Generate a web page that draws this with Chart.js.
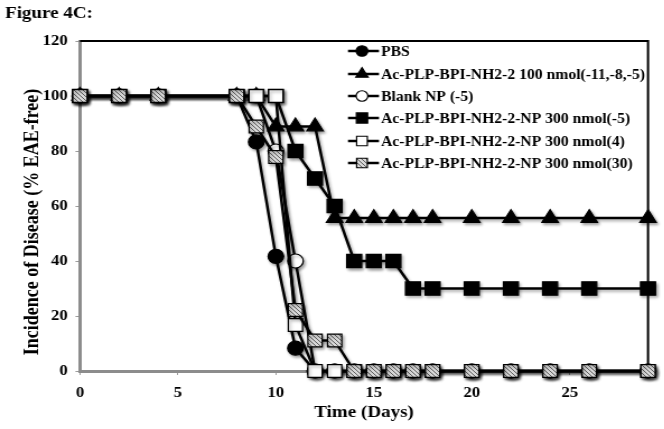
<!DOCTYPE html>
<html>
<head>
<meta charset="utf-8">
<script src="https://cdn.jsdelivr.net/npm/chart.js@4.4.0/dist/chart.umd.min.js"></script>
<style>
html, body { margin: 0; padding: 0; background: #fff; overflow: hidden; }
/* the source figure is stretched sideways a little, so is this one */
#wrap { width: 593px; height: 429px; transform: scaleX(1.12); transform-origin: 0 0; }
</style>
</head>
<body>
<div id="wrap"><canvas id="c"></canvas></div>
<script>
var days = [0, 2, 4, 8, 9, 10, 11, 12, 13, 14, 15, 16, 17, 18, 20, 22, 24, 26, 29];
var pbs      = [100, 100, 100, 100, 83.3, 41.7, 8.3, 0, 0, 0, 0, 0, 0, 0, 0, 0, 0, 0, 0];
var pep100   = [100, 100, 100, 100, 100, 88.9, 88.9, 88.9, 55.6, 55.6, 55.6, 55.6, 55.6, 55.6, 55.6, 55.6, 55.6, 55.6, 55.6];
var blankNP  = [100, 100, 100, 100, 100, 80, 40, 0, 0, 0, 0, 0, 0, 0, 0, 0, 0, 0, 0];
var np300m5  = [100, 100, 100, 100, 100, 100, 80, 70, 60, 40, 40, 40, 30, 30, 30, 30, 30, 30, 30];
var np300d4  = [100, 100, 100, 100, 100, 100, 16.7, 0, 0, 0, 0, 0, 0, 0, 0, 0, 0, 0, 0];
var np300d30 = [100, 100, 100, 100, 88.9, 77.8, 22.2, 11.1, 11.1, 0, 0, 0, 0, 0, 0, 0, 0, 0, 0];
var names = ['PBS', 'Ac-PLP-BPI-NH2-2 100 nmol(-11,-8,-5)', 'Blank NP (-5)',
             'Ac-PLP-BPI-NH2-2-NP 300 nmol(-5)', 'Ac-PLP-BPI-NH2-2-NP 300 nmol(4)',
             'Ac-PLP-BPI-NH2-2-NP 300 nmol(30)'];
var xTicks = [0, 5, 10, 15, 20, 25];
var yTicks = [0, 20, 40, 60, 80, 100, 120];

var serif = '"Liberation Serif", "Times New Roman", serif';
var canvas = document.getElementById('c');
var ctx = canvas.getContext('2d');

function hatch() {
	var p = document.createElement('canvas');
	p.width = 4; p.height = 4;
	var g = p.getContext('2d');
	g.fillStyle = '#d8d8d8';
	g.fillRect(0, 0, 4, 4);
	g.strokeStyle = '#5e5e5e';
	g.lineWidth = 1;
	g.beginPath();
	g.moveTo(0, 0); g.lineTo(4, 4);
	g.moveTo(-1, 3); g.lineTo(1, 5);
	g.moveTo(3, -1); g.lineTo(5, 1);
	g.stroke();
	return ctx.createPattern(p, 'repeat');
}
var hatchFill = hatch();

function series(i, values, style, radius, fill, order) {
	return {
		label: names[i],
		data: values.map(function (v, k) { return { x: days[k], y: v }; }),
		borderColor: '#000',
		borderWidth: 2.5,
		pointStyle: style,
		pointRadius: radius,
		pointHoverRadius: radius,
		pointBackgroundColor: fill,
		pointBorderColor: '#000',
		pointBorderWidth: 1.2,
		clip: false,
		order: order
	};
}

var datasets = [
	series(0, pbs, 'circle', 7, '#000', 5),
	series(1, pep100, 'triangle', 8.5, '#000', 4),
	series(2, blankNP, 'circle', 7, '#fff', 3),
	series(3, np300m5, 'rect', 9.5, '#000', 2),
	series(4, np300d4, 'rect', 9, '#fff', 1),
	series(5, np300d30, 'rect', 9, hatchFill, 0)
];

function marker(c, style, x, y, r) {
	c.beginPath();
	if (style === 'circle') {
		c.arc(x, y, r, 0, Math.PI * 2);
	} else if (style === 'triangle') {
		c.moveTo(x, y - r);
		c.lineTo(x + r * 0.866, y + r * 0.5);
		c.lineTo(x - r * 0.866, y + r * 0.5);
		c.closePath();
	} else {
		var s = r * Math.SQRT1_2;
		c.rect(x - s, y - s, 2 * s, 2 * s);
	}
	c.fill();
	c.stroke();
}

var extras = {
	id: 'extras',
	beforeDatasetsDraw: function (chart) {
		var a = chart.chartArea, c = chart.ctx;
		c.save();
		c.strokeStyle = '#000';
		c.lineWidth = 2;
		c.beginPath();
		c.moveTo(a.left, a.top);
		c.lineTo(a.right, a.top);
		c.lineTo(a.right, a.bottom);
		c.stroke();
		c.restore();
		c.save();
		c.shadowColor = 'rgba(0,0,0,0.35)';
		c.shadowBlur = 3;
		c.shadowOffsetX = 1.5;
		c.shadowOffsetY = 2;
	},
	afterDatasetsDraw: function (chart) {
		chart.ctx.restore();
	},
	afterDraw: function (chart) {
		var c = chart.ctx;
		c.save();
		c.fillStyle = '#000';
		c.font = 'bold 17px ' + serif;
		c.textBaseline = 'middle';
		c.textAlign = 'left';
		c.fillText('Figure 4C:', 4.5, 14);

		c.save();
		c.font = 'bold 18px ' + serif;
		c.translate(29, 222);
		c.rotate(-Math.PI / 2);
		c.textAlign = 'center';
		c.fillText('Incidence of Disease (% EAE-free)', 0, 0);
		c.restore();

		// legend inside the plot, top right
		var rows = [51, 74, 96, 118, 141, 163];
		c.font = 'bold 14px ' + serif;
		chart.data.datasets.forEach(function (d, i) {
			var y = rows[i];
			c.strokeStyle = '#000';
			c.lineWidth = 2.5;
			c.beginPath();
			c.moveTo(310.7, y);
			c.lineTo(338.4, y);
			c.stroke();
			c.fillStyle = d.pointBackgroundColor;
			c.lineWidth = 1.2;
			marker(c, d.pointStyle, 323.2, y, d.pointRadius * 0.75);
			c.fillStyle = '#000';
			c.fillText(d.label, 340.2, y + 1);
		});
		c.restore();
	}
};

new Chart(ctx, {
	type: 'line',
	data: { datasets: datasets },
	options: {
		responsive: true,
		maintainAspectRatio: false,
		animation: false,
		layout: { padding: { top: 41, right: 14.4, bottom: 0, left: 0 } },
		plugins: { legend: { display: false }, tooltip: { enabled: false } },
		scales: {
			x: {
				type: 'linear',
				min: 0,
				max: 29,
				afterBuildTicks: function (s) { s.ticks = xTicks.map(function (v) { return { value: v }; }); },
				afterFit: function (s) { s.height = 58; },
				grid: { drawOnChartArea: false, tickLength: 4, tickColor: '#999' },
				border: { color: '#8c8c8c', width: 3 },
				ticks: { color: '#000', padding: 9, maxRotation: 0, font: { family: serif, size: 15, weight: 'bold' } },
				title: { display: true, text: 'Time (Days)', color: '#000', padding: { top: 0, bottom: 6 },
				         font: { family: serif, size: 17, weight: 'bold' } }
			},
			y: {
				min: 0,
				max: 120,
				afterBuildTicks: function (s) { s.ticks = yTicks.map(function (v) { return { value: v }; }); },
				afterFit: function (s) { s.width = 71.4; },
				grid: { drawOnChartArea: false, tickLength: 4, tickColor: '#999' },
				border: { color: '#8c8c8c', width: 3 },
				ticks: { color: '#000', padding: 7, font: { family: serif, size: 15, weight: 'bold' } }
			}
		}
	},
	plugins: [extras]
});
</script>
</body>
</html>
